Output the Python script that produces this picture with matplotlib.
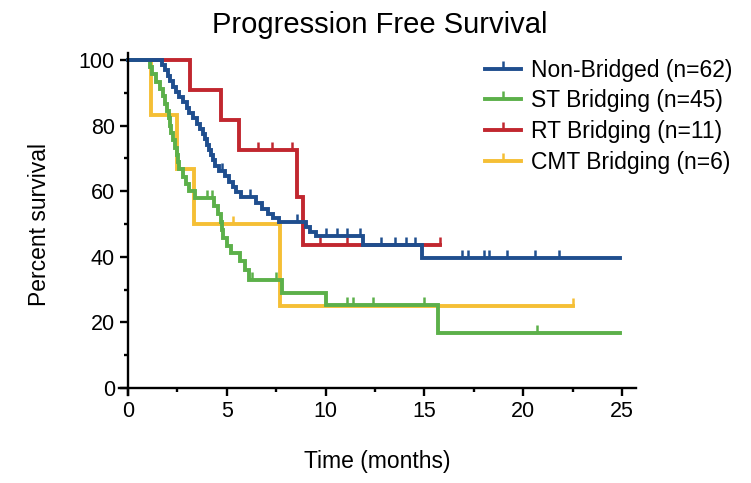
import matplotlib.pyplot as plt
import numpy as np
from matplotlib.lines import Line2D

# Kaplan-Meier steps: (time in months, percent surviving after the drop)
nb_time = [0, 1.7, 1.85, 2.0, 2.15, 2.3, 2.45, 2.6, 2.8, 3.0, 3.1, 3.3, 3.5, 3.65, 3.8,
           3.9, 4.0, 4.1, 4.2, 4.3, 4.4, 4.6, 4.9, 5.1, 5.3, 5.45, 5.7, 6.5, 6.8, 7.1,
           7.35, 7.65, 9.0, 9.2, 9.5, 11.9, 14.9]
nb_surv = [100, 98.4, 96.8, 95.2, 93.5, 91.9, 90.3, 88.7, 87.1, 85.5, 83.9, 82.3, 80.6,
           79.0, 77.4, 75.8, 74.2, 72.6, 71.0, 69.4, 67.7, 66.1, 64.5, 62.9, 61.3, 59.7,
           58.1, 56.4, 54.7, 53.0, 51.9, 50.7, 49.0, 47.5, 46.2, 43.6, 39.6]
nb_cens = [4.75, 6.15, 8.55, 10.0, 10.6, 11.1, 11.75, 12.8, 13.5, 14.05, 14.5,
           16.9, 17.2, 18.0, 18.25, 19.2, 20.6, 21.8]
nb_end = 24.9

st_time = [0, 1.1, 1.2, 1.4, 1.6, 1.75, 1.85, 1.95, 2.05, 2.15, 2.2, 2.3, 2.4, 2.5, 2.55,
           2.6, 2.8, 2.95, 3.1, 3.4, 4.35, 4.55, 4.7, 4.75, 4.8, 5.0, 5.2, 5.65, 5.9, 6.1,
           7.8, 10.0, 15.7]
st_surv = [100, 97.8, 95.6, 93.3, 91.1, 88.9, 86.7, 84.4, 82.2, 80.0, 77.8, 75.6, 73.3,
           71.1, 68.9, 66.7, 64.4, 62.2, 60.0, 57.8, 55.4, 53.0, 50.5, 48.1, 45.7, 43.3,
           41.2, 38.8, 36.0, 33.0, 29.0, 25.3, 16.7]
st_cens = [4.0, 4.25, 6.3, 7.5, 11.1, 11.4, 12.4, 15.0, 20.7]
st_end = 24.9

rt_time = [0, 3.15, 4.7, 5.6, 8.55, 8.85]
rt_surv = [100, 90.9, 81.8, 72.7, 58.2, 43.6]
rt_cens = [6.6, 7.3, 8.3, 9.7, 11.1, 15.8]
rt_end = 15.8

cmt_time = [0, 1.15, 2.5, 3.35, 7.7]
cmt_surv = [100, 83.3, 66.7, 50.0, 25.0]
cmt_cens = [5.3, 22.5]
cmt_end = 22.5

labels = ["Non-Bridged (n=62)", "ST Bridging (n=45)", "RT Bridging (n=11)", "CMT Bridging (n=6)"]
colors = ["#1f4e8e", "#5cb04a", "#c1272f", "#f5bf35"]

curves = [(nb_time, nb_surv, nb_cens, nb_end),
          (st_time, st_surv, st_cens, st_end),
          (rt_time, rt_surv, rt_cens, rt_end),
          (cmt_time, cmt_surv, cmt_cens, cmt_end)]

plt.rcParams["font.family"] = ["Liberation Sans", "DejaVu Sans"]

fig = plt.figure(figsize=(7.51, 4.83), dpi=100)
ax = fig.add_axes([0.1586, 0.183, 0.688, 0.7064])

# draw in reverse so blue sits on top, like the original
for (t, s, cens, end), col in reversed(list(zip(curves, colors))):
    ax.step(t + [end], s + [s[-1]], where="post", color=col, lw=2.8, solid_joinstyle="miter")
    idx = np.searchsorted(t, cens, side="right") - 1
    ax.plot(cens, np.array(s)[idx], ls="none", marker=2, ms=6, mew=1.8, color=col)

ax.set_xlim(-0.45, 25.7)
ax.set_ylim(-2, 102)
ax.spines["left"].set_position(("data", 0))
ax.spines["bottom"].set_position(("data", 0))
for side in ["top", "right"]:
    ax.spines[side].set_visible(False)
for side in ["left", "bottom"]:
    ax.spines[side].set_linewidth(1.7)

ax.set_xticks(np.arange(0, 26, 5))
ax.set_xticks(np.arange(2.5, 25, 5), minor=True)
ax.set_yticks(np.arange(0, 101, 20))
ax.set_yticks(np.arange(10, 100, 20), minor=True)
ax.tick_params(which="major", direction="out", length=5.5, width=1.7, labelsize=15.5, pad=4)
ax.tick_params(which="minor", direction="out", length=3, width=1.7)

ax.set_xlabel("Time (months)", fontsize=16.5, labelpad=20)
ax.set_ylabel("Percent survival", fontsize=16.5, labelpad=20)
fig.text(0.505, 0.948, "Progression Free Survival", ha="center", va="center", fontsize=21)

handles = [Line2D([0], [0], color=c, lw=2.8, marker=2, ms=6, mew=1.8) for c in colors]
ax.legend(handles, labels, loc="upper left", bbox_to_anchor=(0.6458, 0.878),
          bbox_transform=fig.transFigure, frameon=False, borderpad=0, borderaxespad=0,
          fontsize=16.5, handlelength=1.55, handletextpad=0.45, labelspacing=0.33, numpoints=1)

fig.savefig("out.png", dpi=100)
